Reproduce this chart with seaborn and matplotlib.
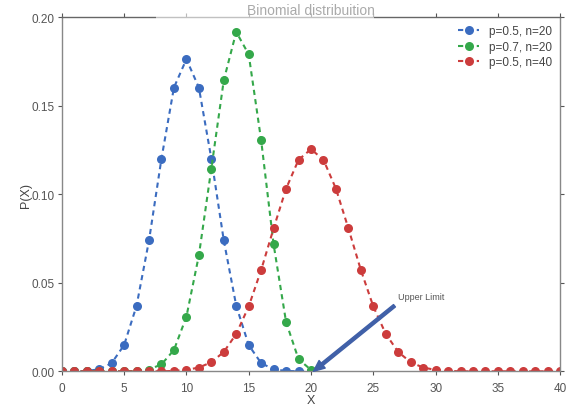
import matplotlib
matplotlib.use("Agg")
import matplotlib.pyplot as plt
import seaborn as sns
import pandas as pd
from matplotlib.patches import Rectangle

x_a = list(range(0, 21))
p_a = [0.0, 0.0, 0.0002, 0.0011, 0.0046, 0.0148, 0.037, 0.0739, 0.1201, 0.1602, 0.1762,
       0.1602, 0.1201, 0.0739, 0.037, 0.0148, 0.0046, 0.0011, 0.0002, 0.0, 0.0]
x_b = list(range(0, 21))
p_b = [0.0, 0.0, 0.0, 0.0, 0.0, 0.0, 0.0002, 0.001, 0.0039, 0.012, 0.0308,
       0.0654, 0.1144, 0.1643, 0.1916, 0.1789, 0.1304, 0.0716, 0.0278, 0.0068, 0.0008]
x_c = list(range(0, 41))
p_c = [0.0, 0.0, 0.0, 0.0, 0.0, 0.0, 0.0, 0.0, 0.0, 0.0002, 0.0008,
       0.0021, 0.0051, 0.0109, 0.0211, 0.0366, 0.0572, 0.0807, 0.1031, 0.1194, 0.1254,
       0.1194, 0.1031, 0.0807, 0.0572, 0.0366, 0.0211, 0.0109, 0.0051, 0.0021, 0.0008,
       0.0002, 0.0, 0.0, 0.0, 0.0, 0.0, 0.0, 0.0, 0.0, 0.0]
labels = ["p=0.5, n=20", "p=0.7, n=20", "p=0.5, n=40"]

sns.set_style("white")
plt.rcParams['font.family'] = ['Liberation Sans', 'DejaVu Sans']

fig = plt.figure(figsize=(5.67, 4.10), dpi=100)
ax = fig.add_axes([0.109, 0.092, 0.879, 0.864])

colors = ["#3b6cc0", "#34a84a", "#cc3c3c"]
for xs, ps, lab, col in zip([x_a, x_b, x_c], [p_a, p_b, p_c], labels, colors):
    df = pd.DataFrame({"X": xs, "P": ps})
    sns.lineplot(data=df, x="X", y="P", ax=ax, color=col, marker="o",
                 markersize=6.5, markeredgewidth=0, linewidth=1.5, label=lab,
                 dashes=False, linestyle=(0, (2.5, 2.0)))

ax.set_xlim(0, 40)
ax.set_ylim(0, 0.20)
ax.set_xticks([0, 5, 10, 15, 20, 25, 30, 35, 40])
ax.set_yticks([0.0, 0.05, 0.10, 0.15, 0.20])
ax.set_yticklabels(["0.00", "0.05", "0.10", "0.15", "0.20"])
ax.tick_params(axis="both", labelsize=8.5, colors="#555555", direction="out", length=3,
               top=True, right=True, bottom=True, left=True)
ax.tick_params(axis="x", pad=5)
ax.tick_params(axis="y", pad=2)
for s in ax.spines.values():
    s.set_color("#888888")
    s.set_linewidth(1.0)
ax.spines["top"].set_color("#666666")
ax.set_xlabel("X", fontsize=9, color="#444444", labelpad=0)
ax.set_ylabel("P(X)", fontsize=9, color="#444444", labelpad=0)

ax.add_patch(Rectangle((0.19, 0.985), 0.436, 0.03, transform=ax.transAxes,
                       facecolor="white", alpha=0.6, edgecolor="none", clip_on=False, zorder=5))
ax.text(0.5, 1.0, "Binomial distribuition", transform=ax.transAxes, ha="center",
        va="bottom", fontsize=10, color="#aaaaaa", zorder=6)

ax.annotate("", xy=(20.2, 0.0), xytext=(26.7, 0.037),
            arrowprops=dict(facecolor="#4060a8", edgecolor="#4060a8", width=2.2,
                            headwidth=7, headlength=8, shrink=0.0))
ax.text(27.0, 0.0395, "Upper Limit", fontsize=6.5, color="#555555", ha="left", va="bottom")

leg = ax.legend(loc="upper right", frameon=False, fontsize=8.5, handlelength=1.8,
                borderaxespad=0.3, labelspacing=0.3)
for t in leg.get_texts():
    t.set_color("#444444")

fig.savefig("out.png", dpi=100)
